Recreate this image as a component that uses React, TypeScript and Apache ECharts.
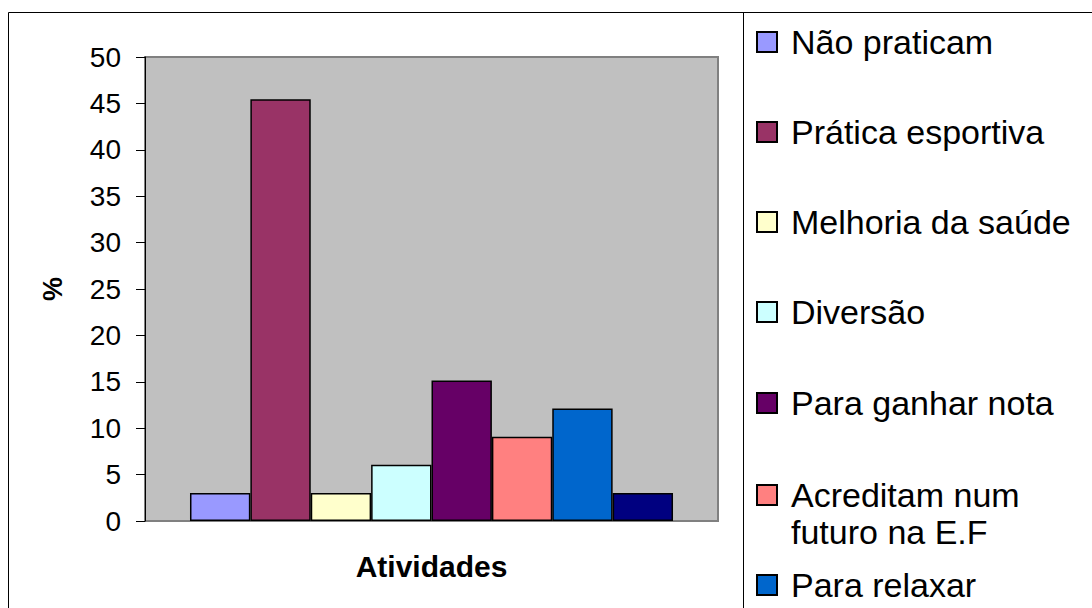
import React, { useEffect, useRef } from "react";
import * as echarts from "echarts";

const categories = [""];
const seriesNames = [
  "Não praticam",
  "Prática esportiva",
  "Melhoria da saúde",
  "Diversão",
  "Para ganhar nota",
  "Acreditam num futuro na E.F",
  "Para relaxar",
  "Outros",
];
const seriesValues = [3.03, 45.45, 3.03, 6.06, 15.15, 9.09, 12.12, 3.03];
const seriesColors = [
  "#9999FF",
  "#993366",
  "#FFFFCC",
  "#CCFFFF",
  "#660066",
  "#FF8080",
  "#0066CC",
  "#000080",
];
const legendNames = seriesNames.slice(0, 7);
const legendCenters = [42, 132, 222, 312, 403, 495, 585];

const FONT = "'Liberation Sans', Arial, sans-serif";
const LEGEND_FS = 34;
const LEGEND_LH = 37;

export default function App() {
  const ref = useRef<HTMLDivElement>(null);
  useEffect(() => {
    if (!ref.current) return;
    const chart = echarts.init(ref.current, undefined, { renderer: "svg" });
    const legends = legendNames.map((name, i) => {
      const multi = name.indexOf("num ") >= 0;
      return {
        data: [name],
        left: 756,
        top: multi ? legendCenters[i] - LEGEND_LH * 1.5 : legendCenters[i] - LEGEND_LH / 2,
        padding: 0,
        itemWidth: 20,
        itemHeight: 20,
        icon: "rect",
        selectedMode: false,
        formatter: (n: string) =>
          n.indexOf("num ") >= 0 ? " \n" + n.replace("num ", "num\n") : n,
        textStyle: {
          fontFamily: FONT,
          fontSize: LEGEND_FS,
          lineHeight: LEGEND_LH,
          color: "#000",
          padding: [0, 0, 0, 9],
        },
      };
    });
    chart.setOption({
      animation: false,
      backgroundColor: "#fff",
      textStyle: { fontFamily: FONT },
      grid: {
        left: 145,
        top: 57,
        right: 374,
        bottom: 87,
        show: true,
        backgroundColor: "#C0C0C0",
        borderColor: "#808080",
        borderWidth: 2,
      },
      legend: legends,
      xAxis: {
        type: "category",
        data: categories,
        axisLine: { show: false },
        axisTick: { show: false },
        axisLabel: { show: false },
        name: "Atividades",
        nameLocation: "middle",
        nameGap: 30,
        nameTextStyle: {
          fontFamily: FONT,
          fontSize: 30,
          fontWeight: "bold",
          color: "#000",
        },
      },
      yAxis: {
        type: "value",
        min: 0,
        max: 50,
        interval: 5,
        splitLine: { show: false },
        axisLine: { show: true, lineStyle: { color: "#000", width: 1 } },
        axisTick: { show: true, length: 9, lineStyle: { color: "#000" } },
        axisLabel: {
          margin: 24,
          fontFamily: FONT,
          fontSize: 28,
          color: "#000",
        },
        name: "%",
        nameLocation: "middle",
        nameRotate: 90,
        nameGap: 79,
        nameTextStyle: {
          fontFamily: FONT,
          fontSize: 27,
          fontWeight: "bold",
          color: "#000",
        },
      },
      series: seriesNames.map((name, i) => ({
        type: "bar",
        name,
        data: [seriesValues[i]],
        barGap: "0%",
        barCategoryGap: "15.7%",
        itemStyle: {
          color: seriesColors[i],
          borderColor: "#000",
          borderWidth: 1.5,
        },
      })),
      graphic: [
        {
          type: "rect",
          shape: { x: 8.5, y: 12.5, width: 1200, height: 700 },
          style: { fill: "none", stroke: "#000", lineWidth: 1 },
          silent: true,
        },
        {
          type: "line",
          shape: { x1: 743.5, y1: 12, x2: 743.5, y2: 620 },
          style: { stroke: "#000", lineWidth: 1 },
          silent: true,
        },
      ],
    });
    return () => chart.dispose();
  }, []);
  return (
    <div
      ref={ref}
      style={{ position: "fixed", left: 0, top: 0, width: 1092, height: 608 }}
    />
  );
}
